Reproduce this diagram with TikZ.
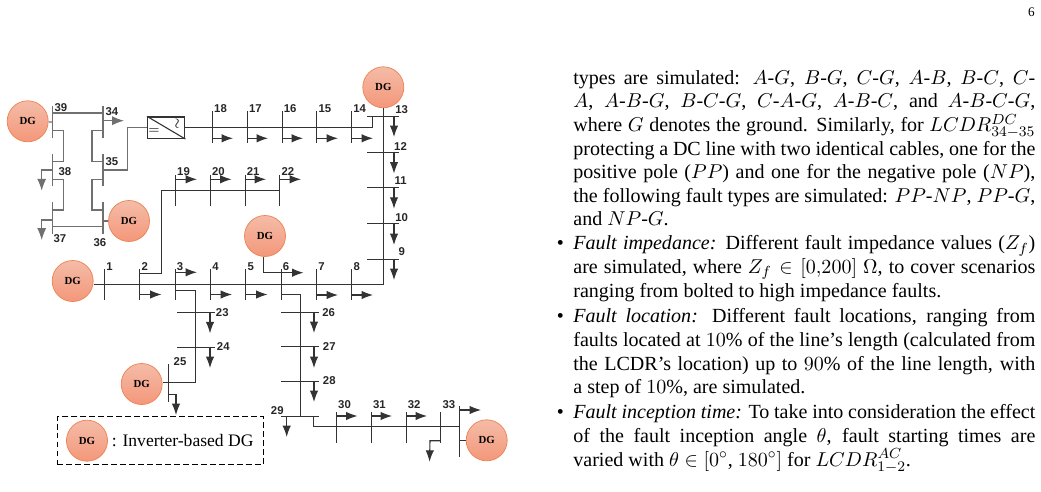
\documentclass[tikz,border=0pt]{standalone}
\usepackage{amsmath}
\usepackage{amssymb}
\usepackage{fontspec}
\usepackage{xcolor}
\usetikzlibrary{arrows.meta}
\setmainfont{Liberation Serif}
\setsansfont{Liberation Sans}
\definecolor{dgtop}{HTML}{F4BCA8}
\definecolor{dgbot}{HTML}{F4977A}
\definecolor{dgline}{HTML}{EE8455}
\definecolor{linedark}{HTML}{333333}
\definecolor{linegray}{HTML}{707070}
\newcommand{\bulletmark}{\leavevmode\llap{\textbullet\hspace{5.2pt}}}

\begin{document}
\begin{tikzpicture}[
    x=0.5463pt, y=-0.5463pt,
    node distance=19pt,
    dg/.style={circle, draw=dgline, top color=dgtop, bottom color=dgbot, minimum size=22.4pt, inner sep=0pt, font=\fontsize{5.9}{7}\selectfont\bfseries},
    busbar/.style={rectangle, fill=linedark, inner sep=0pt, outer sep=0pt},
    vbus/.style={busbar, minimum width=0.6pt, minimum height=17.4pt},
    hbus/.style={busbar, minimum height=0.6pt, minimum width=17.4pt},
    hbuslong/.style={hbus, minimum width=20.8pt},
    gbus/.style={vbus, fill=linegray},
    conn/.style={line width=0.6pt, draw=linedark},
    gconn/.style={line width=0.65pt, draw=linegray},
    load/.style={conn, -{Latex[length=6.2pt,width=4.6pt]}},
    gload/.style={gconn, -{Latex[length=6.5pt,width=5pt]}},
    num/.style={inner sep=0pt, text=black!85, font=\fontsize{6.2}{7}\sffamily\bfseries},
    numtop/.style={num, node distance=4.4pt, yshift=10.2pt},
    numone/.style={num, node distance=2.7pt, yshift=9.8pt},
    para/.style={anchor=north west, inner sep=0pt, text width=252.4pt, align=justify, font=\fontsize{10.95}{12.9}\selectfont}
]
    \useasboundingbox (0,0) rectangle (1041,491);

    % DG units
    \node[dg] (dg39) at (27.7,121.3) {DG};
    \node[dg] (dg36) at (129,221) {DG};
    \node[dg] (dg13) at (383.3,87.3) {DG};
    \node[dg] (dg5) at (265,236) {DG};
    \node[dg] (dg1) at (72.7,281) {DG};
    \node[dg] (dg25) at (141.7,384) {DG};
    \node[dg] (dg33) at (486.7,440.3) {DG};

    % DC section
    \node[gbus] (b39) at (52.7,122) {};
    \node[gbus, right of=b39, node distance=27.5pt] (b34) {};
    \node[gbus, below of=b39, node distance=26.2pt] (b38) {};
    \node[gbus, below of=b38, node distance=26.2pt] (b37) {};
    \node[gbus, below of=b34, node distance=26.2pt] (b35) {};
    \node[gbus, below of=b35, node distance=26.2pt] (b36) {};
    \node[draw=linedark, line width=0.8pt, minimum width=20.2pt, minimum height=11.6pt, inner sep=0pt] (conv) at (166.2,127.7) {};
    \node[inner sep=0pt, font=\fontsize{7}{7}\selectfont] (convdc) at (154,131.5) {$=$};
    \node[inner sep=0pt, rotate=90, font=\fontsize{7}{7}\selectfont] (convac) at (178,124) {$\sim$};

    % Upper feeder
    \node[vbus] (b18) at (212.5,127) {};
    \node[vbus, right of=b18] (b17) {};
    \node[vbus, right of=b17] (b16) {};
    \node[vbus, right of=b16] (b15) {};
    \node[vbus, right of=b15] (b14) {};
    \node[hbus] (b13) at (383.3,116.5) {};
    \node[hbus, below of=b13, node distance=19.5pt] (b12) {};
    \node[hbus, below of=b12, node distance=19.5pt] (b11) {};
    \node[hbus, below of=b11, node distance=19.5pt] (b10) {};
    \node[hbus, below of=b10, node distance=19.5pt] (b9) {};

    % Branch 19-22
    \node[vbus] (b19) at (175.5,190.5) {};
    \node[vbus, right of=b19] (b20) {};
    \node[vbus, right of=b20] (b21) {};
    \node[vbus, right of=b21] (b22) {};

    % Main feeder
    \node[vbus] (b1) at (104.5,284.5) {};
    \node[vbus, right of=b1, node distance=19.3pt] (b2) {};
    \node[vbus, right of=b2, node distance=19.3pt] (b3) {};
    \node[vbus, right of=b3, node distance=19.3pt] (b4) {};
    \node[vbus, right of=b4, node distance=19.3pt] (b5) {};
    \node[vbus, right of=b5, node distance=19.3pt] (b6) {};
    \node[vbus, right of=b6, node distance=19.3pt] (b7) {};
    \node[vbus, right of=b7, node distance=19.3pt] (b8) {};

    % Branch 23-25
    \node[hbuslong] (b23) at (195.8,312.7) {};
    \node[hbuslong, below of=b23, node distance=18.8pt] (b24) {};
    \node[vbus, minimum height=20.6pt] (b25) at (168.7,382.8) {};

    % Branch 26-33
    \node[hbuslong] (b26) at (300.2,312.3) {};
    \node[hbuslong, below of=b26, node distance=18.9pt] (b27) {};
    \node[hbuslong, below of=b27, node distance=18.9pt] (b28) {};
    \node[hbuslong, below of=b28, node distance=18.9pt] (b29) {};
    \node[vbus] (b30) at (336.5,427.5) {};
    \node[vbus, right of=b30] (b31) {};
    \node[vbus, right of=b31] (b32) {};
    \node[vbus, right of=b32] (b33) {};
    \node[vbus, minimum height=27.7pt] (bend) at (459.3,431.3) {};

    % Bends and line ends
    \coordinate (c39) at (63.3,130.7);
    \coordinate (c38) at (63.3,161.7);
    \coordinate (c38b) at (63.3,179.3);
    \coordinate (c37) at (63.3,210);
    \coordinate (c34) at (92,130.7);
    \coordinate (c35) at (92,161.7);
    \coordinate (c35b) at (92,179.3);
    \coordinate (c36) at (92,210);
    \coordinate (cdc) at (127.7,170);
    \coordinate (c13) at (372.7,127);
    \coordinate (c2) at (161.7,273.3);
    \coordinate (c3) at (195.8,290.7);
    \coordinate (c6) at (300.2,294.5);
    \coordinate (c29) at (313.3,426.7);
    \coordinate (c25) at (176,394.3);
    \coordinate (c33) at (430,440.7);
    \coordinate (c5) at (263.5,272.7);

    % Connections
    \draw[gconn] (b39.north |- 0,113) -- (b34.north |- 0,113);
    \draw[gconn] (b37.south |- 0,226.7) -- (b36.south |- 0,226.7);
    \draw[gconn] (b39 |- c39) -- (c39) -- (c38) -- (b38 |- c38);
    \draw[gconn] (b38 |- c38b) -- (c38b) -- (c37) -- (b37 |- c37);
    \draw[gconn] (b34 |- c34) -- (c34) -- (c35) -- (b35 |- c35);
    \draw[gconn] (b35 |- c35b) -- (c35b) -- (c36) -- (b36 |- c36);
    \draw[gconn] (dg39) -- (b39);
    \draw[gconn] (dg36.west) -- (b36 |- dg36);
    \draw[gconn] (b35 |- cdc) -- (cdc) -- (cdc |- conv) -- (conv);
    \draw[conn] (conv.north west) -- (conv.south east);
    \draw[conn] (conv.east) -- (conv.east -| c13) -- (c13 |- b13);
    \draw[conn] (b1 -| dg1.east) -- (b1 -| dg13) -- (dg13.south);
    \draw[conn] (b2 |- c2) -- (c2) -- (c2 |- b19) -- (b22);
    \draw[conn] (b3 |- c3) -- (c3) -- (b25 -| c3) -- (b25);
    \draw[conn] (dg25.east |- b25) -- (b25);
    \draw[conn] (b6 |- c6) -- (c6) -- (b29);
    \draw[conn] (c29 |- b29) -- (c29) -- (bend |- c29);
    \draw[conn] (bend.west |- dg33) -- (dg33.west);

    % Loads
    \coordinate (a34) at (124,120.7);
    \coordinate (a38) at (41.7,170);
    \coordinate (a38e) at (41.7,190.7);
    \coordinate (a37) at (41.7,220);
    \coordinate (a37e) at (41.7,240);
    \draw[gload] (b34 |- a34) -- (a34);
    \draw[gload] (b38 |- a38) -- (a38) -- (a38e);
    \draw[gload] (b37 |- a37) -- (a37) -- (a37e);

    \coordinate (a18) at (233,138.3);
    \coordinate (a17) at (268,138.3);
    \coordinate (a16) at (303,138.3);
    \coordinate (a15) at (338,138.3);
    \coordinate (a14) at (373,138.3);
    \draw[load] (b18 |- a18) -- (a18);
    \draw[load] (b17 |- a17) -- (a17);
    \draw[load] (b16 |- a16) -- (a16);
    \draw[load] (b15 |- a15) -- (a15);
    \draw[load] (b14 |- a14) -- (a14);

    \coordinate (a13) at (394,137);
    \coordinate (a12) at (394,173.5);
    \coordinate (a11) at (394,208.7);
    \coordinate (a10) at (394,245);
    \coordinate (a9) at (394,280);
    \draw[load] (a13 |- b13) -- (a13);
    \draw[load] (a12 |- b12) -- (a12);
    \draw[load] (a11 |- b11) -- (a11);
    \draw[load] (a10 |- b10) -- (a10);
    \draw[load] (a9 |- b9) -- (a9);

    \coordinate (a19) at (197,179.3);
    \coordinate (a20) at (231.5,179.3);
    \coordinate (a21) at (266,179.3);
    \coordinate (a22) at (301,179.3);
    \draw[load] (b19 |- a19) -- (a19);
    \draw[load] (b20 |- a20) -- (a20);
    \draw[load] (b21 |- a21) -- (a21);
    \draw[load] (b22 |- a22) -- (a22);

    \coordinate (a2) at (161.5,294.5);
    \coordinate (a3) at (197,272.3);
    \coordinate (a4) at (232,294.5);
    \coordinate (a5) at (267.5,294.5);
    \coordinate (a6) at (303.5,272.7);
    \coordinate (a7) at (338,295);
    \coordinate (a8) at (373,295);
    \draw[load] (b2 |- a2) -- (a2);
    \draw[load] (b3 |- a3) -- (a3);
    \draw[load] (b4 |- a4) -- (a4);
    \draw[load] (b5 |- a5) -- (a5);
    \draw[load] (dg5.south -| c5) -- (c5) -- (a6);
    \draw[load] (b7 |- a7) -- (a7);
    \draw[load] (b8 |- a8) -- (a8);

    \coordinate (a23) at (210,333.3);
    \coordinate (a24) at (210,368);
    \coordinate (a25) at (176,415);
    \draw[load] (a23 |- b23) -- (a23);
    \draw[load] (a24 |- b24) -- (a24);
    \draw[load] (b25 |- c25) -- (c25) -- (a25);

    \coordinate (a26) at (314,333);
    \coordinate (a27) at (314,368);
    \coordinate (a28) at (314,402);
    \coordinate (a29) at (286.7,437);
    \draw[load] (a26 |- b26) -- (a26);
    \draw[load] (a27 |- b27) -- (a27);
    \draw[load] (a28 |- b28) -- (a28);
    \draw[load] (a29 |- b29) -- (a29);

    \coordinate (a30) at (357.5,416);
    \coordinate (a31) at (392,416);
    \coordinate (a32) at (427,416);
    \coordinate (a33) at (429.5,461.7);
    \coordinate (aend) at (481,410);
    \draw[load] (b30 |- a30) -- (a30);
    \draw[load] (b31 |- a31) -- (a31);
    \draw[load] (b32 |- a32) -- (a32);
    \draw[load] (b33 |- c33) -- (c33) -- (a33);
    \draw[load] (bend |- aend) -- (aend);

    % Labels
    \node[num] (n39) at (61,108) {39};
    \node[num] (n34) at (112,112) {34};
    \node[num] (n35) at (112,161.7) {35};
    \node[num] (n38) at (65,172) {38};
    \node[num] (n37) at (60,239) {37};
    \node[num] (n36) at (100,242.7) {36};

    \node[numtop, right of=b18] (n18) {18};
    \node[numtop, right of=b17] (n17) {17};
    \node[numtop, right of=b16] (n16) {16};
    \node[numtop, right of=b15] (n15) {15};
    \node[numtop, right of=b14] (n14) {14};
    \node[num] (n13) at (401.7,109.3) {13};
    \node[num] (n12) at (400.5,146.7) {12};
    \node[num] (n11) at (400.7,180.7) {11};
    \node[num] (n10) at (401.7,217.3) {10};
    \node[num] (n9) at (401.7,251.7) {9};

    \node[numtop, right of=b19] (n19) {19};
    \node[numtop, right of=b20] (n20) {20};
    \node[numtop, right of=b21] (n21) {21};
    \node[numtop, right of=b22] (n22) {22};

    \node[numone, right of=b1] (n1) {1};
    \node[numone, right of=b2] (n2) {2};
    \node[numone, right of=b3] (n3) {3};
    \node[numone, right of=b4] (n4) {4};
    \node[numone, right of=b5] (n5) {5};
    \node[numone, right of=b6] (n6) {6};
    \node[numone, right of=b7] (n7) {7};
    \node[numone, right of=b8] (n8) {8};

    \node[num] (n23) at (222.3,312.7) {23};
    \node[num] (n24) at (223.3,347) {24};
    \node[num] (n25) at (180,361.7) {25};
    \node[num] (n26) at (328.7,312.7) {26};
    \node[num] (n27) at (329.3,347) {27};
    \node[num] (n28) at (329.3,380.3) {28};
    \node[num] (n29) at (277.3,411) {29};
    \node[numtop, right of=b30, yshift=2.2pt] (n30) {30};
    \node[numtop, right of=b31, yshift=2.2pt] (n31) {31};
    \node[numtop, right of=b32, yshift=2.2pt] (n32) {32};
    \node[numtop, right of=b33, yshift=2.2pt] (n33) {33};

    % Legend
    \node[draw, dash pattern=on 3.2pt off 1.7pt, line width=0.55pt, minimum width=112.5pt, minimum height=26pt] (legend) at (160.3,440.5) {};
    \node[dg] (dglegend) at (87,440.7) {DG};
    \node[anchor=west, inner sep=0pt, font=\fontsize{9.6}{11}\selectfont] (legendtxt) at (111.5,441) {: Inverter-based DG};

    % Page text
    \node[inner sep=0pt, font=\fontsize{7.2}{9}\selectfont] (page) at (1031.5,12) {6};
    \node[para] (textone) at (573,70) {types are simulated: $A$-$G$, $B$-$G$, $C$-$G$, $A$-$B$, $B$-$C$, $C$-\linebreak
        $A$, $A$-$B$-$G$, $B$-$C$-$G$, $C$-$A$-$G$, $A$-$B$-$C$, and $A$-$B$-$C$-$G$,\linebreak
        where $G$ denotes the ground. Similarly, for $LCDR_{34-35}^{DC}$\linebreak
        protecting a DC line with two identical cables, one for the\linebreak
        positive pole ($PP$) and one for the negative pole ($NP$),\linebreak
        the following fault types are simulated: $PP$-$NP$, $PP$-$G$,\linebreak
        and $NP$-$G$.};
    \node[para] (texttwo) at (573,235.5) {\bulletmark\textit{Fault impedance:} Different fault impedance values ($Z_f$)\linebreak
        are simulated, where $Z_f \in [0{,}200]$ $\Omega$, to cover scenarios\linebreak
        ranging from bolted to high impedance faults.};
    \node[para] (textthree) at (573,308.5) {\bulletmark\textit{Fault location:} Different fault locations, ranging from\linebreak
        faults located at $10\%$ of the line's length (calculated from\linebreak
        the LCDR's location) up to $90\%$ of the line length, with\linebreak
        a step of $10\%$, are simulated.};
    \node[para] (textfour) at (573,404.5) {\bulletmark\textit{Fault inception time:} To take into consideration the effect\linebreak
        of the fault inception angle $\theta$, fault starting times are\linebreak
        varied with $\theta \in [0^{\circ}$, $180^{\circ}]$ for $LCDR_{1-2}^{AC}$.};
\end{tikzpicture}
\end{document}
